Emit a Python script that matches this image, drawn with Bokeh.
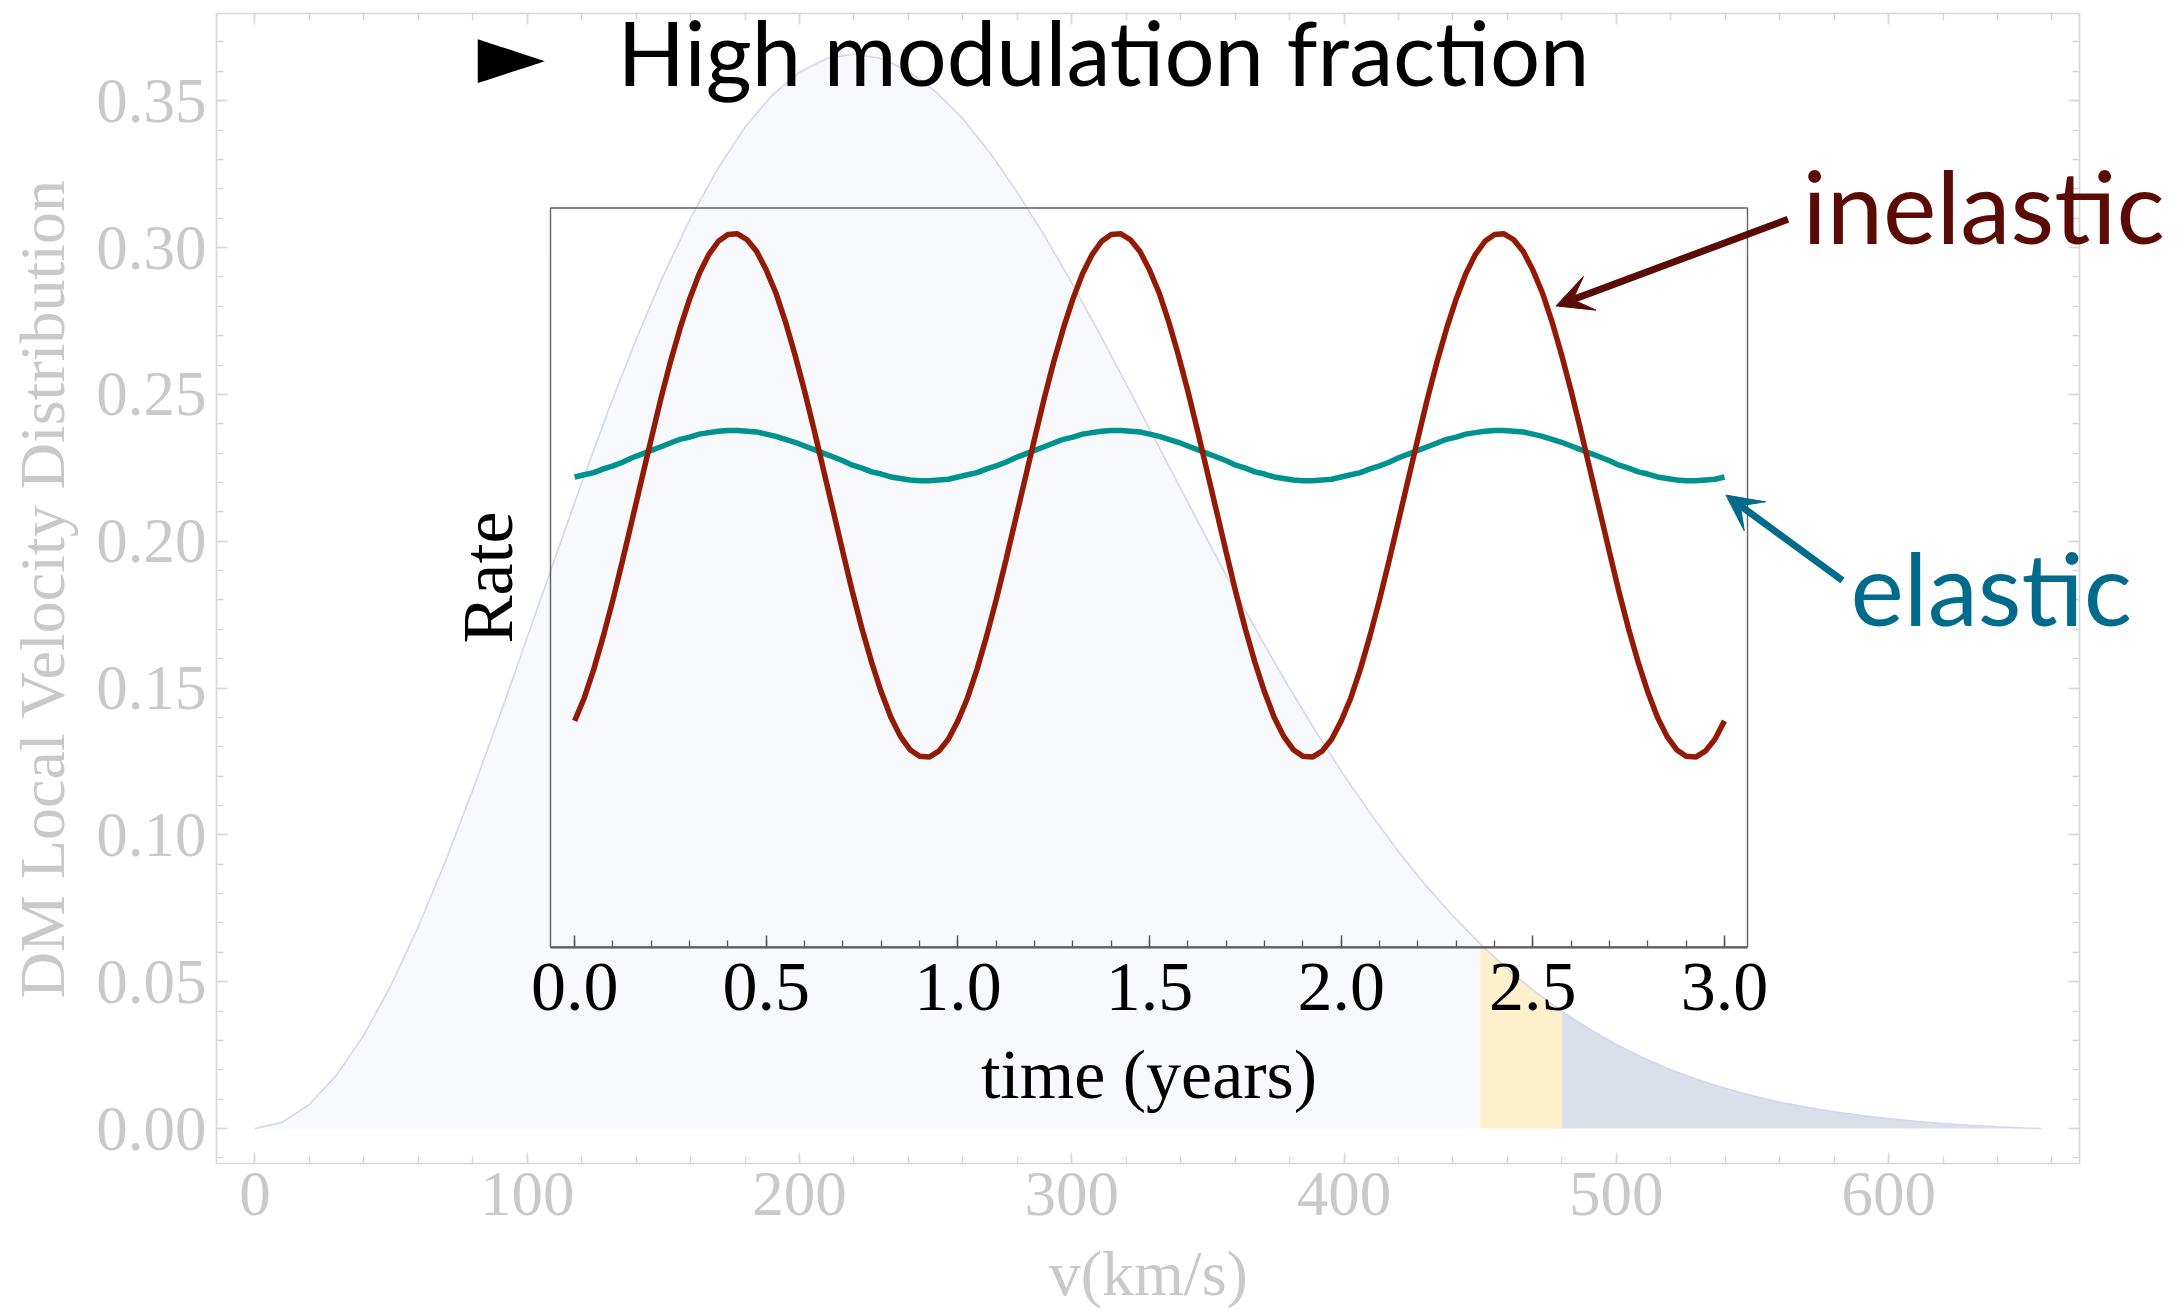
import numpy as np
from bokeh.plotting import figure
from bokeh.models import (Range1d, LinearAxis, FixedTicker, NumeralTickFormatter,
                          CustomJSTickFormatter, BoxAnnotation, Label, Arrow, VeeHead)
from bokeh.embed import file_html
from bokeh.resources import INLINE

# ---------------- data ----------------
speed_kms = [0, 10, 20, 30, 40, 50, 60, 70, 80, 90,
             100, 110, 120, 130, 140, 150, 160, 170, 180, 190,
             200, 210, 220, 230, 240, 250, 260, 270, 280, 290,
             300, 310, 320, 330, 340, 350, 360, 370, 380, 390,
             400, 410, 420, 430, 440, 450, 460, 470, 480, 490,
             500, 510, 520, 530, 540, 550, 560, 570, 580, 590,
             600, 610, 620, 630, 640, 650, 656]
velocity_density = [0.0000, 0.0021, 0.0082, 0.0182, 0.0318, 0.0488, 0.0687, 0.0910, 0.1153, 0.1408,
                    0.1672, 0.1937, 0.2198, 0.2450, 0.2687, 0.2905, 0.3100, 0.3269, 0.3410, 0.3519,
                    0.3597, 0.3644, 0.3659, 0.3644, 0.3601, 0.3531, 0.3439, 0.3322, 0.3188, 0.3040,
                    0.2880, 0.2710, 0.2535, 0.2357, 0.2179, 0.2001, 0.1827, 0.1660, 0.1499, 0.1347,
                    0.1202, 0.1069, 0.0943, 0.0828, 0.0724, 0.0629, 0.0543, 0.0467, 0.0399, 0.0339,
                    0.0286, 0.0240, 0.0200, 0.0166, 0.0137, 0.0112, 0.0090, 0.0072, 0.0057, 0.0044,
                    0.0034, 0.0025, 0.0017, 0.0011, 0.0006, 0.0002, 0.0000]
band_low_kms = 450
band_high_kms = 480

time_years = [round(0.025 * i, 3) for i in range(121)]
rate_inelastic = [
    0.306, 0.337, 0.376, 0.421, 0.470, 0.523, 0.578, 0.633, 0.688, 0.742,
    0.792, 0.837, 0.877, 0.911, 0.937, 0.955, 0.964, 0.965, 0.957, 0.941,
    0.916, 0.885, 0.846, 0.801, 0.752, 0.699, 0.644, 0.589, 0.534, 0.480,
    0.430, 0.385, 0.345, 0.311, 0.285, 0.267, 0.258, 0.257, 0.265, 0.281,
    0.306, 0.337, 0.376, 0.421, 0.470, 0.523, 0.578, 0.633, 0.688, 0.742,
    0.792, 0.837, 0.877, 0.911, 0.937, 0.955, 0.964, 0.965, 0.957, 0.941,
    0.916, 0.885, 0.846, 0.801, 0.752, 0.699, 0.644, 0.589, 0.534, 0.480,
    0.430, 0.385, 0.345, 0.311, 0.285, 0.267, 0.258, 0.257, 0.265, 0.281,
    0.306, 0.337, 0.376, 0.421, 0.470, 0.523, 0.578, 0.633, 0.688, 0.742,
    0.792, 0.837, 0.877, 0.911, 0.937, 0.955, 0.964, 0.965, 0.957, 0.941,
    0.916, 0.885, 0.846, 0.801, 0.752, 0.699, 0.644, 0.589, 0.534, 0.480,
    0.430, 0.385, 0.345, 0.311, 0.285, 0.267, 0.258, 0.257, 0.265, 0.281,
    0.306]
rate_elastic = [
    0.636, 0.639, 0.642, 0.647, 0.651, 0.656, 0.662, 0.667, 0.672, 0.677,
    0.682, 0.687, 0.690, 0.694, 0.696, 0.698, 0.699, 0.699, 0.698, 0.697,
    0.694, 0.691, 0.687, 0.683, 0.678, 0.673, 0.668, 0.663, 0.658, 0.652,
    0.648, 0.643, 0.640, 0.636, 0.634, 0.632, 0.631, 0.631, 0.632, 0.633,
    0.636, 0.639, 0.642, 0.647, 0.651, 0.656, 0.662, 0.667, 0.672, 0.677,
    0.682, 0.687, 0.690, 0.694, 0.696, 0.698, 0.699, 0.699, 0.698, 0.697,
    0.694, 0.691, 0.687, 0.683, 0.678, 0.673, 0.668, 0.663, 0.658, 0.652,
    0.648, 0.643, 0.640, 0.636, 0.634, 0.632, 0.631, 0.631, 0.632, 0.633,
    0.636, 0.639, 0.642, 0.647, 0.651, 0.656, 0.662, 0.667, 0.672, 0.677,
    0.682, 0.687, 0.690, 0.694, 0.696, 0.698, 0.699, 0.699, 0.698, 0.697,
    0.694, 0.691, 0.687, 0.683, 0.678, 0.673, 0.668, 0.663, 0.658, 0.652,
    0.648, 0.643, 0.640, 0.636, 0.634, 0.632, 0.631, 0.631, 0.632, 0.633,
    0.636]

x_major_ticks = [0, 100, 200, 300, 400, 500, 600]
x_minor_ticks = [20 * i for i in range(34)]
y_major_ticks = [0.0, 0.05, 0.10, 0.15, 0.20, 0.25, 0.30, 0.35]
y_minor_ticks = [round(0.01 * i, 2) for i in range(-1, 38)]
t_major_ticks = [0.0, 0.5, 1.0, 1.5, 2.0, 2.5, 3.0]
t_minor_ticks = [round(0.1 * i, 1) for i in range(31)]

title_text = "High modulation fraction"
bullet_text = "\u25BA"
inelastic_text = "inelastic"
elastic_text = "elastic"
x_label = "v(km/s)"
y_label = "DM Local Velocity Distribution"
t_label = "time (years)"
rate_label = "Rate"

# ---------------- layout constants (pixels) ----------------
W, H = 2179, 1311
BL, BT, BW, BH = 216, 13, 1863, 1150          # visible main box
X0, X1 = -14.1, 670.1                          # v range of the box
Y0, Y1 = -0.0119, 0.3797                       # f range of the box
XPU = BW / (X1 - X0)
YPU = BH / (Y1 - Y0)
XR = (X0 - BL / XPU, X0 + (W - BL) / XPU)      # whole canvas is the frame
YR = (Y0 - (H - BT - BH) / YPU, Y1 + BT / YPU)

IL, IR, IT, IB = 550, 1747, 207.5, 946.5       # inset box
TR = (-0.063, 3.06)
RR = (0.0, 1.0)
t_per_px = (TR[1] - TR[0]) / (IR - IL)
r_per_px = (RR[1] - RR[0]) / (IB - IT)
tx_range = Range1d(TR[0] - IL * t_per_px, TR[1] + (W - IR) * t_per_px)
ry_range = Range1d(RR[0] - (H - IB) * r_per_px, RR[1] + IT * r_per_px)


def X(px):
    return XR[0] + px / XPU


def Y(py):
    return YR[1] - py / YPU


# ---------------- colours ----------------
GREY_TXT = "#c9c9c9"
GREY_LINE = "#d7d7d7"
PALE = "#f8f9fc"
BAND = "#fef0cc"
TAIL = "#dadfe9"
CURVE = "#d4d7ec"
INEL = "#931b06"
ELAS = "#00928f"
INEL_TXT = "#5b0b05"
ELAS_TXT = "#006b8b"

p = figure(frame_width=W, frame_height=H,
           x_range=Range1d(*XR), y_range=Range1d(*YR),
           x_axis_type=None, y_axis_type=None,
           output_backend="svg", toolbar_location=None,
           min_border=0)
p.outline_line_color = None
p.background_fill_color = "white"
p.border_fill_color = "white"
p.extra_x_ranges = {"tx": tx_range}
p.extra_y_ranges = {"ry": ry_range}

# ---------------- main distribution ----------------
v = np.array(speed_kms, dtype=float)
f = np.array(velocity_density, dtype=float)
m1 = v <= band_low_kms
m2 = (v >= band_low_kms) & (v <= band_high_kms)
m3 = v >= band_high_kms
p.varea(x=v[m1], y1=0, y2=f[m1], fill_color=PALE)
p.varea(x=v[m2], y1=0, y2=f[m2], fill_color=BAND)
p.varea(x=v[m3], y1=0, y2=f[m3], fill_color=TAIL)
p.line(v, f, line_color=CURVE, line_width=1.6)

# ---------------- main axes (frame with ticks on four sides) ----------------
SERIF = "Liberation Serif"


def style_main(ax, show):
    ax.axis_line_color = GREY_LINE
    ax.axis_line_width = 1.6
    ax.major_tick_line_color = GREY_LINE
    ax.minor_tick_line_color = GREY_LINE
    ax.major_tick_line_width = 1.5
    ax.minor_tick_line_width = 1.3
    ax.major_tick_in = 11
    ax.major_tick_out = 0
    ax.minor_tick_in = 7
    ax.minor_tick_out = 0
    ax.major_label_text_font = SERIF
    ax.major_label_text_color = GREY_TXT
    if show:
        ax.major_label_text_font_size = "63px"
    else:
        ax.major_label_text_font_size = "0px"
        ax.major_label_standoff = 0
        ax.formatter = CustomJSTickFormatter(code="return ''")


xb = LinearAxis(ticker=FixedTicker(ticks=x_major_ticks, minor_ticks=x_minor_ticks),
                fixed_location=Y0, bounds=(X0, X1))
style_main(xb, True)
xb.major_label_standoff = 9
p.add_layout(xb, "below")

xt = LinearAxis(ticker=FixedTicker(ticks=x_major_ticks, minor_ticks=x_minor_ticks),
                fixed_location=Y1, bounds=(X0, X1))
style_main(xt, False)
p.add_layout(xt, "above")

yl = LinearAxis(ticker=FixedTicker(ticks=y_major_ticks, minor_ticks=y_minor_ticks),
                formatter=NumeralTickFormatter(format="0.00"),
                fixed_location=X0, bounds=(Y0, Y1))
style_main(yl, True)
yl.major_label_standoff = 10
p.add_layout(yl, "left")

yr = LinearAxis(ticker=FixedTicker(ticks=y_major_ticks, minor_ticks=y_minor_ticks),
                fixed_location=X1, bounds=(Y0, Y1))
style_main(yr, False)
p.add_layout(yr, "right")

p.add_layout(Label(x=X(1147.8), y=Y(1273), text=x_label, text_font=SERIF,
                   text_font_size="64px", text_color=GREY_TXT,
                   text_align="center", text_baseline="alphabetic"))
p.add_layout(Label(x=X(42), y=Y(588), text=y_label, angle=np.pi / 2, text_font=SERIF,
                   text_font_size="64px", text_color=GREY_TXT,
                   text_align="center", text_baseline="alphabetic"))

# ---------------- inset ----------------
p.line(time_years, rate_elastic, x_range_name="tx", y_range_name="ry",
       line_color=ELAS, line_width=5.5)
p.line(time_years, rate_inelastic, x_range_name="tx", y_range_name="ry",
       line_color=INEL, line_width=5.5)

inset_box = BoxAnnotation(left=TR[0], right=TR[1], bottom=RR[0], top=RR[1],
                          x_range_name="tx", y_range_name="ry",
                          fill_color=None, line_color="#606060", line_alpha=1.0,
                          line_width=1.4)
p.add_layout(inset_box)

ta = LinearAxis(x_range_name="tx", y_range_name="ry", fixed_location=RR[0],
                bounds=(TR[0], TR[1]),
                ticker=FixedTicker(ticks=t_major_ticks, minor_ticks=t_minor_ticks),
                formatter=NumeralTickFormatter(format="0.0"), axis_label=t_label)
ta.axis_line_color = "#555555"
ta.axis_line_width = 2
ta.major_tick_line_color = "#555555"
ta.minor_tick_line_color = "#555555"
ta.major_tick_line_width = 1.5
ta.minor_tick_line_width = 1.3
ta.major_tick_in = 12
ta.major_tick_out = 0
ta.minor_tick_in = 7
ta.minor_tick_out = 0
ta.major_label_text_font = SERIF
ta.major_label_text_font_size = "70px"
ta.major_label_text_color = "black"
ta.major_label_standoff = 17
ta.axis_label_text_font = SERIF
ta.axis_label_text_font_style = "normal"
ta.axis_label_text_font_size = "70px"
ta.axis_label_text_color = "black"
ta.axis_label_standoff = 22
p.add_layout(ta, "below")

p.add_layout(Label(x=X(487), y=Y(577), text=rate_label, angle=np.pi / 2,
                   text_font=SERIF, text_font_size="72px", text_color="black",
                   text_align="center", text_baseline="alphabetic"))

# ---------------- annotations ----------------
SANS = "Lato"
p.add_layout(Label(x=X(477), y=Y(1), text=bullet_text, text_font="DejaVu Sans",
                   text_font_size="88px", text_color="black",
                   text_align="left", text_baseline="top"))
p.add_layout(Label(x=X(617), y=Y(51), text=title_text, text_font=SANS,
                   text_font_size="88.5px", text_color="black",
                   text_align="left", text_baseline="alphabetic"))
p.add_layout(Label(x=X(1802), y=Y(204), text=inelastic_text, text_font=SANS,
                   text_font_size="101px", text_color=INEL_TXT,
                   text_align="left", text_baseline="alphabetic"))
p.add_layout(Label(x=X(1850), y=Y(586), text=elastic_text, text_font=SANS,
                   text_font_size="101px", text_color=ELAS_TXT,
                   text_align="left", text_baseline="alphabetic"))

p.add_layout(Arrow(x_start=X(1787.5), y_start=Y(218.8), x_end=X(1555.5), y_end=Y(305.4),
                   line_color=INEL_TXT, line_width=7,
                   end=VeeHead(size=36, fill_color=INEL_TXT, line_color=INEL_TXT, line_width=1)))
p.add_layout(Arrow(x_start=X(1842), y_start=Y(580), x_end=X(1725.4), y_end=Y(494.6),
                   line_color=ELAS_TXT, line_width=7,
                   end=VeeHead(size=36, fill_color=ELAS_TXT, line_color=ELAS_TXT, line_width=1)))

open("out.html", "w").write(file_html(p, INLINE))
